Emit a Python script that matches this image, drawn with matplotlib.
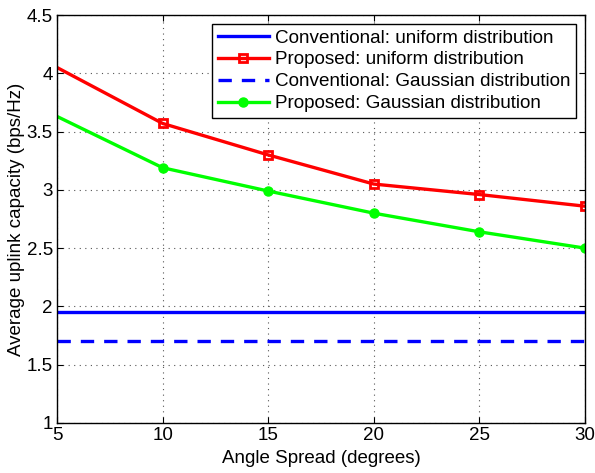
import numpy as np
import matplotlib
matplotlib.use('Agg')
import matplotlib.pyplot as plt

plt.rcParams['font.family'] = ['Liberation Sans', 'DejaVu Sans']

angle = [5, 10, 15, 20, 25, 30]
prop_uniform = [4.05, 3.57, 3.30, 3.05, 2.96, 2.86]
prop_gauss = [3.63, 3.19, 2.99, 2.80, 2.64, 2.50]
conv_uniform = 1.95
conv_gauss = 1.70

fig = plt.figure(figsize=(5.95, 4.73), dpi=100)
ax = fig.add_axes([0.096, 0.106, 0.887, 0.862])

ax.plot([angle[0], angle[-1]], [conv_uniform, conv_uniform], color='#0000ff', lw=2.4,
        label='Conventional: uniform distribution')
ax.plot(angle, prop_uniform, color='#ff0000', lw=2.4, marker='s', ms=6, mfc='none', mew=2,
        markevery=list(range(1, len(angle))), label='Proposed: uniform distribution')
ax.plot([angle[0], angle[-1]], [conv_gauss, conv_gauss], color='#0000ff', lw=2.4, ls=(0, (4, 3)),
        label='Conventional: Gaussian distribution')
ax.plot(angle, prop_gauss, color='#00ff00', lw=2.4, marker='o', ms=6.5,
        markevery=list(range(1, len(angle))), label='Proposed: Gaussian distribution')

ax.set_xlim(5, 30)
ax.set_ylim(1, 4.5)
ax.set_xticks([5, 10, 15, 20, 25, 30])
ax.set_yticks([1, 1.5, 2, 2.5, 3, 3.5, 4, 4.5])
ax.set_yticklabels(['1', '1.5', '2', '2.5', '3', '3.5', '4', '4.5'])
ax.tick_params(direction='in', labelsize=13.5, top=True, right=True, length=4, pad=3)
ax.grid(True, ls=(0, (1, 4)), color='#555555', lw=0.8)
for s in ax.spines.values():
    s.set_linewidth(1.0)

ax.set_xlabel('Angle Spread (degrees)', fontsize=13.5, labelpad=4)
ax.set_ylabel('Average uplink capacity (bps/Hz)', fontsize=13.5, labelpad=1)

leg = ax.legend(loc='upper right', fontsize=13.6, fancybox=False, edgecolor='black',
                handlelength=2.7, borderpad=0.3, labelspacing=0.25, handletextpad=0.35,
                borderaxespad=0.45, framealpha=1)
leg.get_frame().set_linewidth(1.0)

fig.savefig('out.png', dpi=100)
